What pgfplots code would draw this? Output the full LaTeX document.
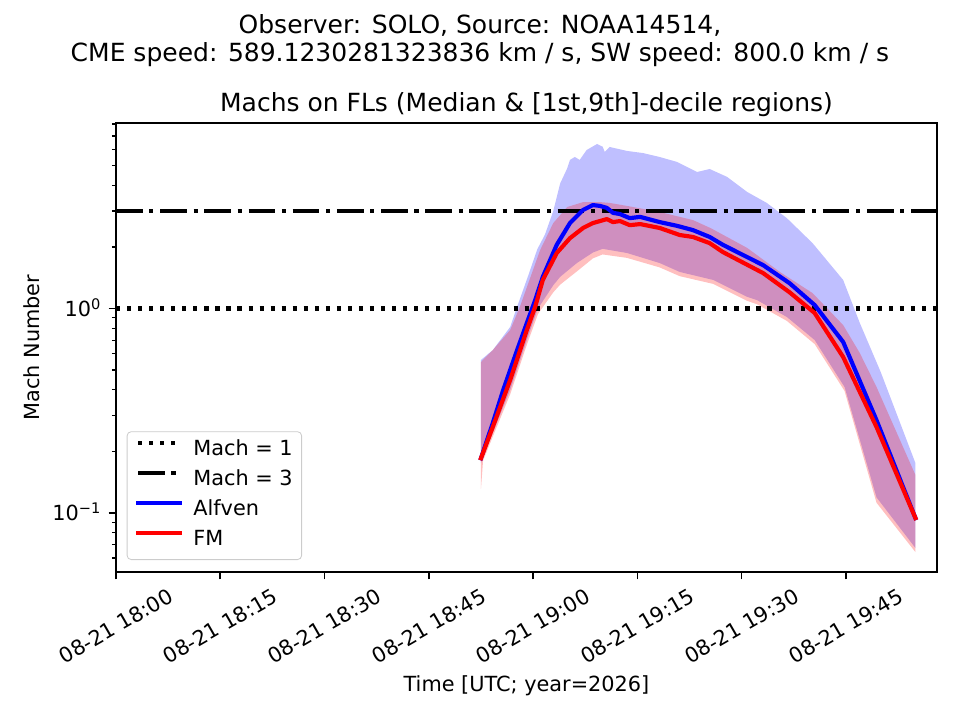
\documentclass[border=0pt]{standalone}
\usepackage{fontspec}
\setmainfont{DejaVu Sans}
\usepackage{pgfplots}
\pgfplotsset{compat=1.18}
\usepgfplotslibrary{fillbetween}
\begin{document}
\begin{tikzpicture}
\begin{axis}[
  at={(0pt,0pt)}, anchor=south west,
  scale only axis, width=394.08pt, height=215.38pt,
  ymode=log, xmin=0, xmax=118.1, ymin=0.0513, ymax=8.07,
  axis line style={line width=0.8pt},
  tick align=outside, major tick length=3.5pt, minor tick length=2pt,
  every major tick/.append style={line width=0.8pt, black},
  every minor tick/.append style={line width=0.6pt, black},
  xtick={0,15,30,45,60,75,90,105},
  xticklabels={08-21 18:00,08-21 18:15,08-21 18:30,08-21 18:45,08-21 19:00,08-21 19:15,08-21 19:30,08-21 19:45},
  xtick pos=left, ytick pos=left,
  ytick={0.1,1}, yticklabels={10\textsuperscript{−1},10\textsuperscript{0}},
  minor ytick={0.06,0.07,0.08,0.09,0.2,0.3,0.4,0.5,0.6,0.7,0.8,0.9,2,3,4,5,6,7,8},
  xticklabel style={yshift=-22.5pt, rotate=30, anchor=center, font=\fontsize{10}{12}\selectfont},
  yticklabel style={anchor=base east, yshift=-3.9pt, font=\fontsize{10}{12}\selectfont},
  legend cell align=left,
  legend style={at={(0.013,0.0267)}, anchor=south west, draw=black!20, rounded corners=2pt,
    fill=white, fill opacity=0.8, text opacity=1, draw opacity=1,
    font=\fontsize{10}{12}\selectfont, inner xsep=4.3pt, inner ysep=1.9pt, row sep=0pt,
    nodes={inner sep=0pt, text height=9.6pt, text depth=4.8pt}},
  legend image code/.code={\draw[#1] (0pt,3.6pt) -- (20pt,3.6pt);},
]
% Alfven decile band
\addplot[draw=none, forget plot, name path=aup] coordinates {
(52.5,0.56) (54.2,0.626) (56.7,0.812) (57.7,1.02) (59.3,1.45) (60.6,1.95) (61.7,2.3)
(62.9,3.0) (63.9,4.1) (64.9,4.85) (65.3,5.34) (66.0,5.52) (66.7,5.34) (67.7,5.97)
(69.2,6.39) (70.0,6.2) (70.3,5.85) (71.0,6.18) (73.5,5.91) (75.8,5.77) (78.2,5.52)
(80.7,5.22) (83.6,4.66) (85.4,4.82) (87.9,4.41) (90.8,3.72) (93.6,3.29) (96.5,2.77)
(100.2,2.09) (104.6,1.38) (107.0,0.849) (110.0,0.489) (115.0,0.175)};
\addplot[draw=none, forget plot, name path=alo] coordinates {
(52.5,0.175) (52.8,0.187) (54.2,0.246) (56.7,0.399) (59.1,0.701) (60.7,1.0) (62.9,1.3)
(63.9,1.43) (66.3,1.67) (68.6,1.88) (70.0,1.96) (73.5,1.87) (78.2,1.67) (81.1,1.51)
(85.9,1.38) (90.8,1.14) (92.2,1.10) (96.5,0.909) (100.5,0.701) (104.8,0.413)
(109.4,0.119) (115.0,0.0672)};
\addplot[fill=blue, fill opacity=0.25, draw=none, forget plot] fill between[of=aup and alo];
% FM decile band
\addplot[draw=none, forget plot, name path=fup] coordinates {
(52.5,0.547) (54.2,0.626) (56.7,0.785) (58.1,1.02) (61.0,1.93) (62.9,2.62) (64.9,3.14)
(67.2,3.32) (69.6,3.32) (71.0,3.29) (73.5,3.18) (78.2,2.97) (83.0,2.71) (85.6,2.47)
(90.8,1.98) (95.5,1.51) (100.2,1.19) (104.6,0.83) (107.0,0.605) (109.4,0.413)
(115.0,0.153)};
\addplot[draw=none, forget plot, name path=flo] coordinates {
(52.5,0.131) (52.8,0.18) (54.2,0.236) (56.7,0.38) (59.1,0.665) (60.7,0.94) (62.9,1.20)
(63.9,1.31) (66.3,1.52) (68.6,1.76) (70.0,1.84) (73.5,1.77) (78.2,1.59) (81.1,1.44)
(85.9,1.32) (90.8,1.09) (92.2,1.05) (96.5,0.87) (100.5,0.67) (104.8,0.395)
(109.4,0.112) (115.0,0.0642)};
\addplot[fill=red, fill opacity=0.25, draw=none, forget plot] fill between[of=fup and flo];
% Mach thresholds
\addplot[black, line width=2pt, dash pattern=on 2pt off 3.3pt] coordinates {(0,1) (118.1,1)};
\addlegendentry{\hspace*{5.5pt}Mach = 1}
\addplot[black, line width=2pt, dash pattern=on 12.8pt off 3.2pt on 2pt off 3.2pt] coordinates {(0,3) (118.1,3)};
\addlegendentry{\hspace*{5.5pt}Mach = 3}
% Medians
\addplot[blue, line width=2pt, line join=round, line cap=rect] coordinates {
(52.5,0.185) (54.2,0.275) (55.7,0.399) (57.7,0.626) (59.1,0.849) (60.3,1.10) (61.4,1.43)
(63.4,2.05) (65.3,2.62) (67.2,3.04) (68.6,3.21) (69.6,3.18) (70.6,3.11) (71.5,2.94)
(72.5,2.90) (73.9,2.77) (75.4,2.81) (78.2,2.65) (80.7,2.54) (83.0,2.42) (85.4,2.24)
(87.3,2.05) (93.1,1.63) (96.9,1.33) (100.5,1.04) (104.6,0.686) (109.4,0.284) (115.0,0.0942)};
\addlegendentry{\hspace*{5.5pt}Alfven}
\addplot[red, line width=2pt, line join=round, line cap=rect] coordinates {
(52.5,0.185) (54.2,0.263) (56.7,0.447) (59.1,0.785) (60.3,1.02) (61.4,1.38) (63.4,1.87)
(65.3,2.21) (67.2,2.48) (68.6,2.62) (70.6,2.74) (71.5,2.65) (72.5,2.68) (73.9,2.56)
(75.4,2.59) (78.2,2.48) (81.1,2.29) (83.0,2.24) (85.4,2.09) (87.3,1.89) (93.1,1.49)
(96.9,1.20) (100.5,0.951) (104.6,0.579) (109.4,0.263) (115.0,0.0942)};
\addlegendentry{\hspace*{5.5pt}FM}
\end{axis}
\path (-55.68pt,-71.04pt) rectangle (405.12pt,274.56pt);
\node[anchor=base, font=\fontsize{12}{14.4}\selectfont] at (174.72pt,258.56pt) {Observer: SOLO, Source: NOAA14514,};
\node[anchor=base, font=\fontsize{12}{14.4}\selectfont] at (174.72pt,244.96pt) {CME speed: 589.1230281323836 km / s, SW speed: 800.0 km / s};
\node[anchor=base, font=\fontsize{12}{14.4}\selectfont] at (197.04pt,220.96pt) {Machs on FLs (Median \& [1st,9th]-decile regions)};
\node[anchor=base, font=\fontsize{10}{12}\selectfont] at (197.04pt,-57.44pt) {Time [UTC; year=2026]};
\node[anchor=base, rotate=90, font=\fontsize{10}{12}\selectfont] at (-36.48pt,107.69pt) {Mach Number};
\end{tikzpicture}
\end{document}
